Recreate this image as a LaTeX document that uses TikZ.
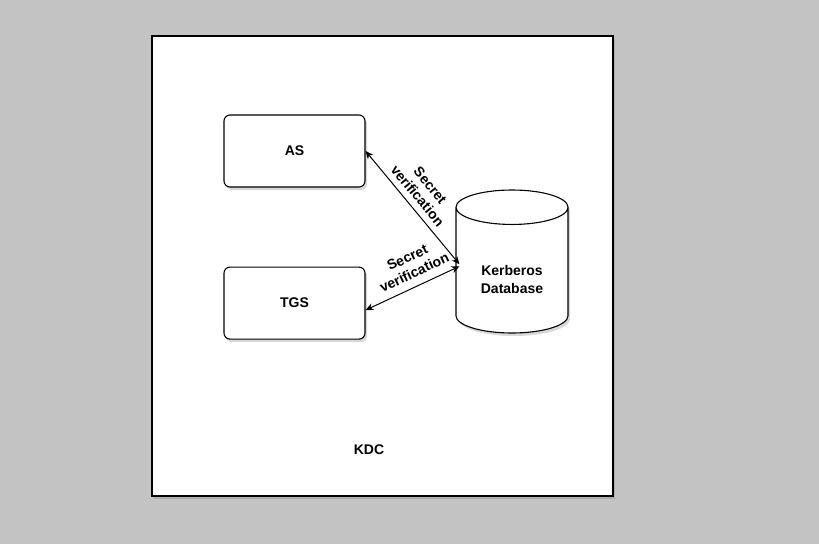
\documentclass[tikz,border=0pt]{standalone}
\usepackage{fontspec}
\setmainfont{Liberation Sans}
\usetikzlibrary{arrows.meta,shapes.geometric,positioning,shadows}

\definecolor{canvasgray}{RGB}{195,195,195}

\tikzset{
  softshadow/.style={drop shadow={opacity=0.3,shadow xshift=2pt,shadow yshift=-3pt}},
  server/.style={draw,line width=1.1pt,fill=white,rounded corners=6pt,
    minimum width=141pt,minimum height=72pt,font=\bfseries\fontsize{14}{17}\selectfont,softshadow},
  store/.style={draw,line width=1.1pt,fill=white,cylinder,shape border rotate=90,aspect=0.5,
    minimum width=112pt,minimum height=143pt,anchor=shape center,align=center,
    font=\bfseries\fontsize{14}{18}\selectfont,softshadow},
  link/.style={line width=1pt,{Stealth[length=8pt,width=7pt]}-{Stealth[length=8pt,width=7pt]}},
  linklabel/.style={sloped,align=center,inner sep=1pt,
    font=\bfseries\fontsize{14}{16.5}\selectfont}
}

\begin{document}
\begin{tikzpicture}[x=1pt,y=-1pt]
  % gray page
  \fill[canvasgray] (0,0) rectangle (819,544);

  % outer KDC frame
  \node[draw,line width=1.4pt,fill=white,minimum width=461pt,minimum height=460pt,
    softshadow] (kdc) at (382.5,266) {};
  \node[font=\bfseries\fontsize{14}{17}\selectfont] (kdclabel) at (369,450) {KDC};

  % servers and database
  \node[server] (as) at (294.5,151) {AS};
  \node[server,below=79pt of as] (tgs) {TGS};
  \node[store] (kdb) at (512,261.5) {\phantom{Kerberos}\\\phantom{Database}};
  \node[align=center,font=\bfseries\fontsize{14}{18}\selectfont] (kdbtext) at (512,279) {Kerberos\\Database};

  % verification links
  \draw[link] (as.east) -- node[linklabel,above=5pt,pos=0.46] {Secret\\verification} ([xshift=4pt,yshift=9pt]kdb.west);
  \draw[link] ([yshift=-7pt]tgs.east) -- node[linklabel,above=7pt,pos=0.58] {Secret\\verification} ([xshift=4pt,yshift=7pt]kdb.west);
\end{tikzpicture}
\end{document}
